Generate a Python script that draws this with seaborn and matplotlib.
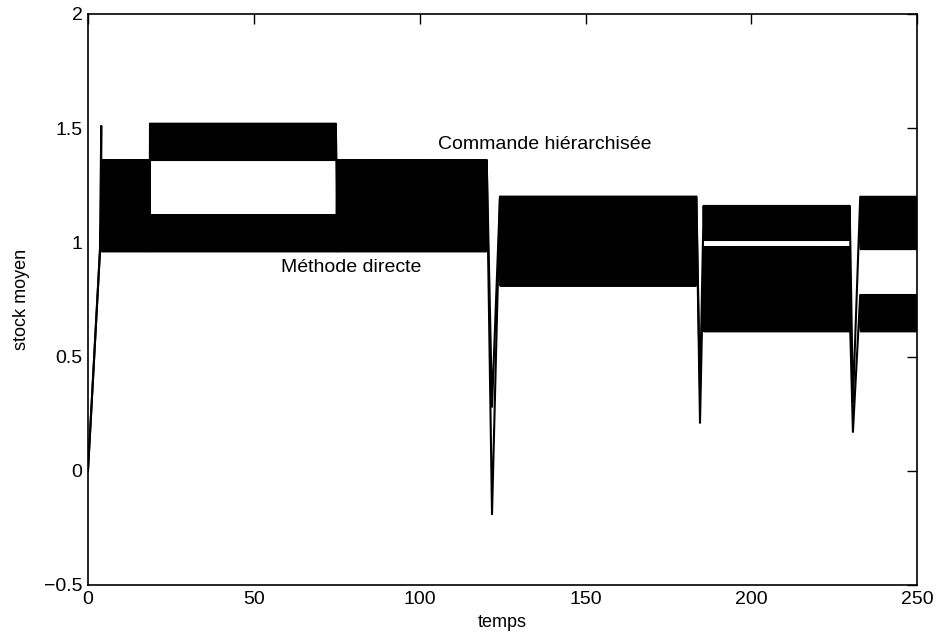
import numpy as np
import pandas as pd
import matplotlib
matplotlib.use("Agg")
import matplotlib.pyplot as plt
import seaborn as sns

# ---- data ----
seg_start = [4.0, 18.7, 75.0, 124.2, 185.6, 232.8]
seg_end = [18.7, 75.0, 120.3, 183.4, 229.8, 250.0]
hier_low = [1.11, 1.36, 1.11, 0.81, 1.01, 0.97]
hier_high = [1.36, 1.52, 1.36, 1.20, 1.16, 1.20]
dir_low = [0.96, 0.96, 0.96, 0.81, 0.61, 0.61]
dir_high = [1.36, 1.12, 1.36, 1.20, 0.98, 0.77]
dip_after_seg = [2, 3, 4]
dip_time = [121.8, 184.5, 230.6]
dir_dip = [-0.19, 0.21, 0.17]
hier_dip = [0.28, 0.35, 0.30]
start_t = [0.0, 3.6, 4.0]
hier_start = [0.0, 0.96, 1.51]
dir_start = [0.0, 0.96, 1.11]
xticks = [0, 50, 100, 150, 200, 250]
yticks = [-0.5, 0, 0.5, 1, 1.5, 2]
label_hier = "Commande hiérarchisée"
label_dir = "Méthode directe"
dt = 0.2


def build(low, high, dip, start_vals):
    t = list(start_t)
    v = list(start_vals)
    for i in range(len(seg_start)):
        ts = np.arange(seg_start[i], seg_end[i] + 1e-9, dt)
        for k, tt in enumerate(ts):
            t.append(tt)
            v.append(high[i] if k % 2 == 0 else low[i])
        if i in dip_after_seg:
            j = dip_after_seg.index(i)
            t.append(dip_time[j])
            v.append(dip[j])
    return pd.DataFrame({"temps": t, "stock": v})


df_h = build(hier_low, hier_high, hier_dip, hier_start)
df_d = build(dir_low, dir_high, dir_dip, dir_start)

sns.set_theme(style="white")
plt.rcParams["font.family"] = ["Liberation Sans", "DejaVu Sans"]

fig = plt.figure(figsize=(9.36, 6.34), dpi=100)
ax = fig.add_axes([0.094, 0.0773, 0.886, 0.9007])

sns.lineplot(data=df_d, x="temps", y="stock", ax=ax, color="black",
             linewidth=1.5, estimator=None, sort=False)
sns.lineplot(data=df_h, x="temps", y="stock", ax=ax, color="black",
             linewidth=1.5, estimator=None, sort=False)

ax.set_xlim(0, 250)
ax.set_ylim(-0.5, 2)
ax.set_xticks(xticks)
ax.set_yticks(yticks)
ax.set_xticklabels([str(x) for x in xticks])
ax.set_yticklabels(["−0.5", "0", "0.5", "1", "1.5", "2"])
ax.tick_params(direction="in", length=7, width=1, top=True, right=True,
               labelsize=14, colors="black", pad=4)
for s in ax.spines.values():
    s.set_color("black")
    s.set_linewidth(1.2)
    s.set_visible(True)

ax.set_xlabel("temps", fontsize=13, color="black", labelpad=5)
ax.set_ylabel("stock moyen", fontsize=13, color="black", labelpad=10)

ax.text(137.8, 1.43, label_hier, fontsize=14, ha="center", va="center", color="black")
ax.text(79.3, 0.89, label_dir, fontsize=14, ha="center", va="center", color="black")

fig.savefig("out.png", dpi=100)
